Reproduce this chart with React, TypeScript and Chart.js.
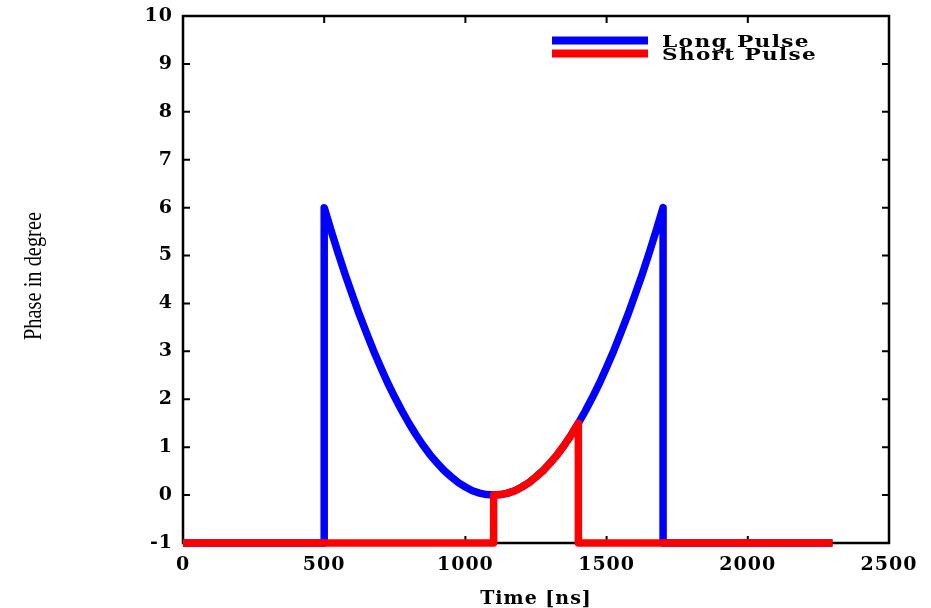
import React, { useEffect, useRef } from "react";
import { Chart, registerables } from "chart.js";

Chart.register(...registerables);

// Phase curve sampled every 25 ns between 500 ns and 1700 ns (degrees)
const curveTime = [
  500, 525, 550, 575, 600, 625, 650, 675, 700, 725, 750, 775, 800, 825, 850, 875, 900, 925, 950, 975, 1000, 1025, 1050, 1075,
  1100, 1125, 1150, 1175, 1200, 1225, 1250, 1275, 1300, 1325, 1350, 1375, 1400, 1425, 1450, 1475, 1500, 1525, 1550, 1575,
  1600, 1625, 1650, 1675, 1700,
];
const curvePhase = [
  6.0, 5.51, 5.04, 4.59, 4.17, 3.76, 3.38, 3.01, 2.67, 2.34, 2.04, 1.76, 1.5, 1.26, 1.04, 0.84, 0.67, 0.51, 0.38, 0.26, 0.17,
  0.09, 0.04, 0.01, 0.0, 0.01, 0.04, 0.09, 0.17, 0.26, 0.38, 0.51, 0.67, 0.84, 1.04, 1.26, 1.5, 1.76, 2.04, 2.34, 2.67, 3.01,
  3.38, 3.76, 4.17, 4.59, 5.04, 5.51, 6.0,
];

const baseline = -1;
const startTime = 0;
const endTime = 2300;
const longPulseWindow = [500, 1700];
const shortPulseWindow = [1100, 1400];

const seriesLabels = ["Long Pulse", "Short Pulse"];
const seriesColors = ["#0000ff", "#ff0000"];

const xTicks = [0, 500, 1000, 1500, 2000, 2500];
const yTicks = [-1, 0, 1, 2, 3, 4, 5, 6, 7, 8, 9, 10];

function pulse(win: number[]) {
  const pts: { x: number; y: number }[] = [
    { x: startTime, y: baseline },
    { x: win[0], y: baseline },
  ];
  curveTime.forEach((t, i) => {
    if (t >= win[0] && t <= win[1]) pts.push({ x: t, y: curvePhase[i] });
  });
  pts.push({ x: win[1], y: baseline });
  pts.push({ x: endTime, y: baseline });
  return pts;
}

const serifBold = "'DejaVu Serif', 'Liberation Serif', serif";
const tickFont = { family: serifBold, size: 19, weight: "bold" as const };

const framePlugin = {
  id: "frame",
  beforeLayout(chart: any) {
    chart.ctx.letterSpacing = "1px";
  },
  beforeDraw(chart: any) {
    chart.ctx.letterSpacing = "1px";
  },
  beforeDatasetsDraw(chart: any) {
    const { ctx, chartArea: a, scales } = chart;
    ctx.save();
    ctx.strokeStyle = "#000";
    ctx.lineWidth = 2.5;
    ctx.strokeRect(a.left, a.top, a.right - a.left, a.bottom - a.top);
    ctx.lineWidth = 2;
    const len = 7;
    ctx.beginPath();
    xTicks.forEach((v) => {
      const px = scales.x.getPixelForValue(v);
      ctx.moveTo(px, a.bottom);
      ctx.lineTo(px, a.bottom - len);
      ctx.moveTo(px, a.top);
      ctx.lineTo(px, a.top + len);
    });
    yTicks.forEach((v) => {
      const py = scales.y.getPixelForValue(v);
      ctx.moveTo(a.left, py);
      ctx.lineTo(a.left + len, py);
      ctx.moveTo(a.right, py);
      ctx.lineTo(a.right - len, py);
    });
    ctx.stroke();
    ctx.restore();
  },
  afterDatasetsDraw(chart: any) {
    const { ctx } = chart;
    ctx.save();
    // y axis title, set in a narrow tall face
    ctx.letterSpacing = "0px";
    ctx.fillStyle = "#000";
    ctx.font = "25px 'Liberation Serif', serif";
    const tw = ctx.measureText("Phase in degree").width;
    ctx.translate(34, 276);
    ctx.rotate(-Math.PI / 2);
    ctx.scale(128 / tw, 1);
    ctx.textAlign = "center";
    ctx.textBaseline = "middle";
    ctx.fillText("Phase in degree", 0, 0);
    ctx.restore();

    // legend: sample line plus label, label stretched to its row width
    const rows = [40.5, 53.5];
    const widths = [148, 155];
    seriesLabels.forEach((lab, i) => {
      ctx.save();
      ctx.strokeStyle = seriesColors[i];
      ctx.lineWidth = 8;
      ctx.beginPath();
      ctx.moveTo(552, rows[i]);
      ctx.lineTo(648, rows[i]);
      ctx.stroke();
      ctx.letterSpacing = "1px";
      ctx.font = `bold 16px ${serifBold}`;
      ctx.textBaseline = "alphabetic";
      ctx.textAlign = "left";
      ctx.fillStyle = "#000";
      const w = ctx.measureText(lab).width;
      ctx.translate(662, rows[i] + 6);
      ctx.scale(widths[i] / w, 1);
      ctx.fillText(lab, 0, 0);
      ctx.restore();
    });
  },
};

export default function App() {
  const ref = useRef<HTMLCanvasElement | null>(null);
  useEffect(() => {
    if (!ref.current) return;
    const chart = new Chart(ref.current, {
      type: "line",
      data: {
        datasets: [
          {
            label: seriesLabels[1],
            data: pulse(shortPulseWindow),
            borderColor: seriesColors[1],
            borderWidth: 7.5,
            pointRadius: 0,
            borderJoinStyle: "round",
            borderCapStyle: "butt",
            clip: false as any,
            order: 0,
          },
          {
            label: seriesLabels[0],
            data: pulse(longPulseWindow),
            borderColor: seriesColors[0],
            borderWidth: 7.5,
            pointRadius: 0,
            borderJoinStyle: "round",
            borderCapStyle: "butt",
            clip: false as any,
            order: 1,
          },
        ],
      },
      options: {
        animation: false,
        responsive: false,
        maintainAspectRatio: false,
        layout: { padding: { left: 0, right: 42, top: 16, bottom: 0 } },
        plugins: { legend: { display: false }, tooltip: { enabled: false } },
        scales: {
          x: {
            type: "linear",
            min: 0,
            max: 2500,
            afterBuildTicks: (s: any) => {
              s.ticks = xTicks.map((v) => ({ value: v }));
            },
            afterFit: (s: any) => {
              s.height = 65;
              s.paddingLeft = 0;
              s.paddingRight = 0;
            },
            grid: { display: false },
            border: { display: false },
            ticks: { color: "#000", font: tickFont, padding: 3, maxRotation: 0, callback: (v: any) => String(v) },
            title: {
              display: true,
              text: "Time [ns]",
              color: "#000",
              font: { family: serifBold, size: 19, weight: "bold" },
              padding: { top: 0, bottom: -2 },
            },
          },
          y: {
            type: "linear",
            min: -1,
            max: 10,
            afterBuildTicks: (s: any) => {
              s.ticks = yTicks.map((v) => ({ value: v }));
            },
            afterFit: (s: any) => {
              s.width = 183;
              s.paddingTop = 0;
              s.paddingBottom = 0;
            },
            grid: { display: false },
            border: { display: false },
            ticks: { color: "#000", font: tickFont, padding: 2, callback: (v: any) => String(v) },
          },
        },
      },
      plugins: [framePlugin],
    });
    return () => chart.destroy();
  }, []);
  return (
    <div style={{ position: "fixed", left: 0, top: 0, width: 931, height: 608, background: "#fff" }}>
      <canvas ref={ref} width={931} height={608} style={{ width: 931, height: 608 }} />
    </div>
  );
}
